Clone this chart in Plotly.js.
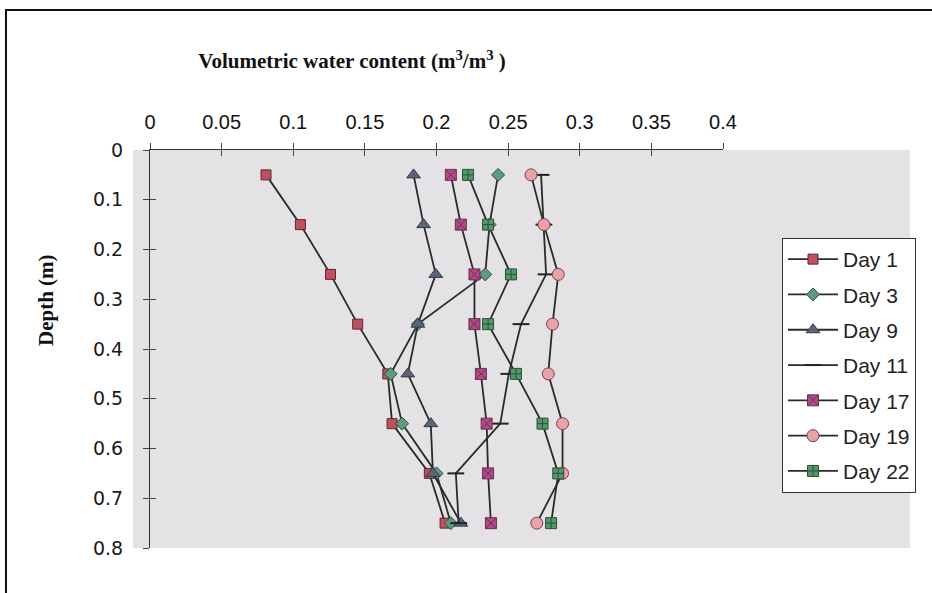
<!DOCTYPE html>
<html>
<head>
<meta charset="utf-8">
<script src="https://cdn.plot.ly/plotly-3.0.1.min.js"></script>
<style>
html,body{margin:0;padding:0;background:#fff;}
#chart{width:932px;height:593px;}
</style>
</head>
<body>
<div id="chart"></div>
<script>
// Depth (m)
var depth = [0.05, 0.15, 0.25, 0.35, 0.45, 0.55, 0.65, 0.75];
// Volumetric water content (m3/m3) per day
var day1  = [0.081, 0.105, 0.126, 0.145, 0.166, 0.169, 0.195, 0.206];
var day3  = [0.243, 0.237, 0.234, 0.187, 0.168, 0.176, 0.200, 0.210];
var day9  = [0.184, 0.191, 0.1995, 0.187, 0.180, 0.196, 0.1975, 0.217];
var day11 = [0.273, 0.275, 0.2765, 0.259, 0.2505, 0.2445, 0.2135, 0.2155];
var day17 = [0.210, 0.217, 0.2265, 0.2265, 0.231, 0.235, 0.236, 0.238];
var day19 = [0.266, 0.275, 0.285, 0.281, 0.278, 0.288, 0.288, 0.270];
var day22 = [0.222, 0.236, 0.252, 0.236, 0.2555, 0.274, 0.285, 0.280];

var seriesNames = ["Day 1", "Day 3", "Day 9", "Day 11", "Day 17", "Day 19", "Day 22"];
var seriesData = [day1, day3, day9, day11, day17, day19, day22];
var xTicks = [0, 0.05, 0.1, 0.15, 0.2, 0.25, 0.3, 0.35, 0.4];
var xTickText = ["0", "0.05", "0.1", "0.15", "0.2", "0.25", "0.3", "0.35", "0.4"];
var yTicks = [0, 0.1, 0.2, 0.3, 0.4, 0.5, 0.6, 0.7, 0.8];
var yTickText = ["0", "0.1", "0.2", "0.3", "0.4", "0.5", "0.6", "0.7", "0.8"];

var markerStyles = [
  {symbol: "square", size: 10, color: "#c05060", line: {color: "#5a2a30", width: 1}},
  {symbol: "diamond", size: 10, color: "#5e9a7e", line: {color: "#2f4f40", width: 1}},
  {symbol: "triangle-up", size: 12, color: "#5c6478", line: {color: "#333a48", width: 1}},
  {symbol: "line-ew", size: 12, color: "#222", line: {color: "#222", width: 2}},
  {symbol: "square-x", size: 11, color: "#b04a88", line: {color: "#6a3050", width: 1}},
  {symbol: "circle", size: 12, color: "#e7a3a8", line: {color: "#7a4048", width: 1}},
  {symbol: "square-cross", size: 11, color: "#4f9a68", line: {color: "#2e4f38", width: 1}}
];

var traces = seriesNames.map(function (name, i) {
  return {
    type: "scatter",
    mode: "lines+markers",
    name: name,
    x: seriesData[i],
    y: depth,
    legendgroup: "g" + i,
    line: {color: "#2a2a2a", width: 1.8},
    marker: markerStyles[i],
    cliponaxis: false,
    hoverinfo: "x+y+name"
  };
});
// helper trace for the overlaid tick axes (inside ticks)
traces.push({type: "scatter", mode: "markers", x: [null], y: [null], xaxis: "x2", yaxis: "y2", showlegend: false, hoverinfo: "skip"});

var W = 932, H = 593;
var L = 150, R = 723, T = 150, B = 548;
function px2paperX(px) { return (px - L) / (R - L); }
function px2paperY(py) { return (B - py) / (B - T); }

var layout = {
  width: W, height: H,
  margin: {l: L, r: W - R, t: T, b: H - B, pad: 0},
  paper_bgcolor: "#ffffff",
  plot_bgcolor: "rgba(0,0,0,0)",
  showlegend: true,
  title: {
    text: "<b>Volumetric water content (m<sup>3</sup>/m<sup>3</sup> )</b>",
    font: {family: "Liberation Serif, Times New Roman, serif", size: 21, color: "#111"},
    xref: "paper", x: px2paperX(352), xanchor: "center",
    yref: "container", y: 1 - 61 / H, yanchor: "middle"
  },
  xaxis: {
    side: "top", range: [0, 0.4], tickvals: xTicks, ticktext: xTickText,
    showgrid: false, zeroline: false, showline: true, linecolor: "#333", linewidth: 1,
    ticks: "outside", ticklen: 6, tickcolor: "#444", tickwidth: 1,
    ticklabelstandoff: 6,
    tickfont: {family: "Liberation Sans, Arial, sans-serif", size: 20, color: "#111"},
    fixedrange: true
  },
  yaxis: {
    range: [0.8, 0], tickvals: yTicks, ticktext: yTickText,
    showgrid: false, zeroline: false, showline: true, linecolor: "#333", linewidth: 1,
    ticks: "outside", ticklen: 6, tickcolor: "#444", tickwidth: 1,
    ticklabelstandoff: 16,
    tickfont: {family: "DejaVu Sans, Verdana, sans-serif", size: 19, color: "#1a1a1a"},
    fixedrange: true
  },
  xaxis2: {
    overlaying: "x", side: "top", range: [0, 0.4], tickvals: xTicks,
    showticklabels: false, showgrid: false, zeroline: false, showline: false,
    ticks: "inside", ticklen: 6, tickcolor: "#444", tickwidth: 1, fixedrange: true
  },
  yaxis2: {
    overlaying: "y", side: "left", range: [0.8, 0], tickvals: yTicks,
    showticklabels: false, showgrid: false, zeroline: false, showline: false,
    ticks: "inside", ticklen: 6, tickcolor: "#444", tickwidth: 1, fixedrange: true
  },
  legend: {
    x: px2paperX(782), y: px2paperY(238), xanchor: "left", yanchor: "top",
    xref: "paper", yref: "paper",
    bgcolor: "#ffffff", bordercolor: "#333", borderwidth: 1,
    font: {family: "Liberation Sans, Arial, sans-serif", size: 21, color: "#222"},
    traceorder: "grouped", tracegroupgap: 5, itemwidth: 50
  },
  annotations: [{
    text: "<b>Depth (m)</b>", textangle: -90,
    xref: "paper", yref: "paper", x: px2paperX(46), y: px2paperY(300),
    xanchor: "center", yanchor: "middle", showarrow: false,
    font: {family: "Liberation Serif, Times New Roman, serif", size: 21, color: "#111"}
  }],
  shapes: [
    {type: "rect", xref: "paper", yref: "paper", layer: "below",
     x0: px2paperX(133), x1: px2paperX(910), y0: 0, y1: 1,
     fillcolor: "#e4e2e4", line: {width: 0}},
    {type: "rect", xref: "paper", yref: "paper", layer: "below",
     x0: px2paperX(6), x1: px2paperX(960), y0: px2paperY(620), y1: px2paperY(10),
     fillcolor: "rgba(0,0,0,0)", line: {color: "#111", width: 2}}
  ]
};

Plotly.newPlot("chart", traces, layout, {displayModeBar: false, staticPlot: true});
</script>
</body>
</html>
